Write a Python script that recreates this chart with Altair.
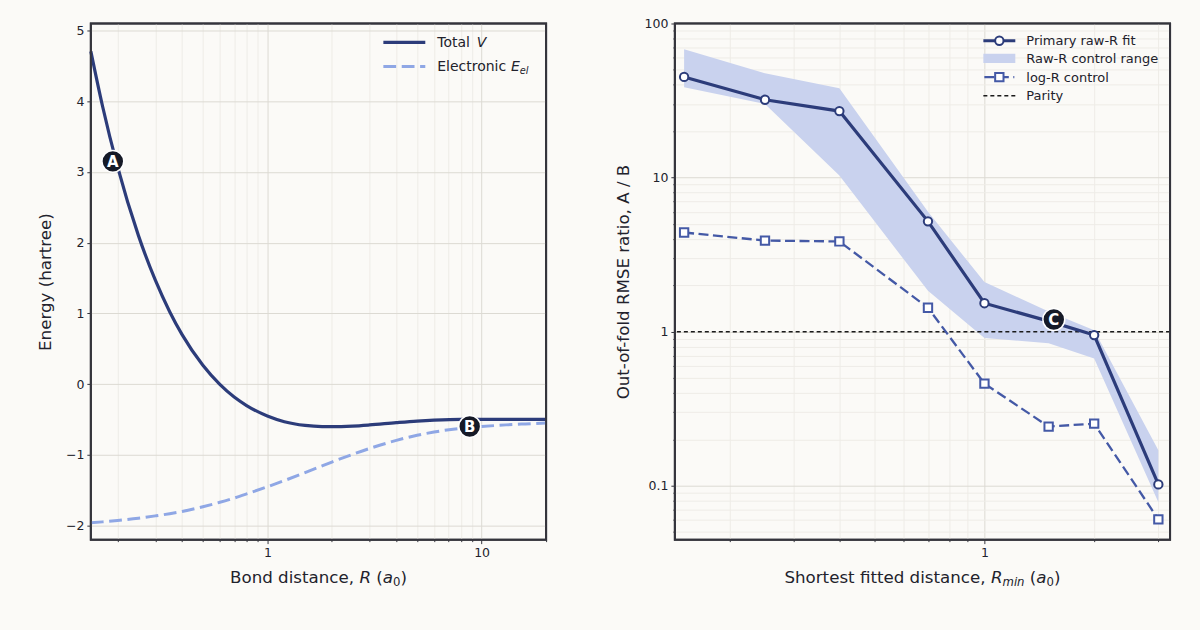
import altair as alt
import pandas as pd

# ---------------- data ----------------
R = [0.15, 0.17, 0.2, 0.25, 0.3, 0.35, 0.4, 0.5, 0.6, 0.7, 0.8, 1.0, 1.2, 1.5,
     1.8, 2.0, 2.5, 3.0, 4.0, 5.0, 6.0, 8.0, 10.0, 13.0, 16.0, 20.0]
E_el = [-1.962, -1.949, -1.929, -1.897, -1.864, -1.833, -1.801, -1.735, -1.672,
        -1.612, -1.554, -1.452, -1.365, -1.252, -1.158, -1.103, -0.994, -0.911,
        -0.796, -0.724, -0.678, -0.625, -0.600, -0.577, -0.563, -0.550]
V_total = [4.705, 3.933, 3.071, 2.103, 1.469, 1.024, 0.699, 0.265, -0.005,
           -0.184, -0.304, -0.452, -0.532, -0.585, -0.602, -0.603, -0.594,
           -0.578, -0.546, -0.524, -0.511, -0.500, -0.500, -0.500, -0.500, -0.500]

left_x_major = [1, 10]
left_x_minor = [0.2, 0.3, 0.4, 0.5, 0.6, 0.7, 0.8, 0.9, 2, 3, 4, 5, 6, 7, 8, 9, 20]
left_y_major = [-2, -1, 0, 1, 2, 3, 4, 5]

ann_left_label = ["A", "B"]
ann_left_R = [0.19, 8.8]
ann_left_E = [3.15, -0.60]

Rmin = [0.15, 0.25, 0.4, 0.7, 1.0, 1.5, 2.0, 3.0]
primary = [45.0, 32.0, 27.0, 5.2, 1.53, 1.17, 0.95, 0.102]
band_lo = [38.5, 30.0, 10.3, 1.84, 0.91, 0.84, 0.67, 0.078]
band_hi = [68.0, 47.5, 38.0, 6.0, 2.1, 1.35, 1.02, 0.17]
logR = [4.4, 3.9, 3.85, 1.43, 0.46, 0.242, 0.253, 0.0605]
parity = [1.0]

right_x_major = [1]
right_x_minor = [0.2, 0.3, 0.4, 0.5, 0.6, 0.7, 0.8, 0.9, 2, 3]
right_y_major = [0.1, 1, 10, 100]
right_y_minor = [0.05, 0.06, 0.07, 0.08, 0.09, 0.2, 0.3, 0.4, 0.5, 0.6, 0.7, 0.8, 0.9,
                 2, 3, 4, 5, 6, 7, 8, 9, 20, 30, 40, 50, 60, 70, 80, 90]

ann_right_label = ["C"]
ann_right_x = [1.55]
ann_right_y = [1.2]

# ---------------- style ----------------
FONT = "DejaVu Sans"
BG = "#fbfaf7"
NAVY = "#2c3c7a"
LIGHT = "#8fa7e5"
BAND = "#c9d2ee"
LOGR = "#4459a6"
INK = "#161a27"
TXT = "#22222c"
FRAME = "#34343c"
GMAJ = "#dcdad3"
GMIN = "#eeece7"

W_L, W_R, H = 456, 496, 517

WID = {' ': .318, 'a': .613, 'b': .635, 'c': .550, 'd': .635, 'e': .615, 'f': .352,
       'g': .635, 'h': .634, 'i': .278, 'l': .278, 'm': .974, 'n': .634, 'o': .612,
       'r': .411, 's': .521, 't': .392, 'u': .634, 'w': .818, 'y': .592, 'B': .686,
       'E': .632, 'R': .695, 'S': .635, 'T': .611, 'V': .684, ',': .318, '(': .390,
       ')': .390, '0': .636}

dummy = pd.DataFrame({"k": [0]})


def axis(values, grid_color, labels=True, tick=4, orient="bottom", **kw):
    return alt.Axis(values=values, format="~g", labels=labels, grid=True,
                    gridColor=grid_color, gridWidth=1, ticks=True, tickSize=tick,
                    tickColor=FRAME, tickWidth=1, domain=False, labelFont=FONT,
                    labelFontSize=12.5, labelColor=TXT, labelPadding=3,
                    orient=orient, **kw)


def txt(s, x, y, size, italic=False, dy=0, color=TXT):
    return alt.Chart(dummy).mark_text(
        text=s, align="left", baseline="alphabetic", font=FONT, fontSize=size,
        fontStyle="italic" if italic else "normal", color=color, dy=dy
    ).encode(x=alt.value(x), y=alt.value(y))


def width(s, fs):
    return sum(WID.get(c, .6) for c in s) * fs


def rich(parts, x, y, size, center=False):
    sizes = [size * 0.7 if st.endswith("sub") else size for _, st in parts]
    total = sum(width(s, fs) for (s, _), fs in zip(parts, sizes))
    cx = x - total / 2 if center else x
    out = []
    for (s, st), fs in zip(parts, sizes):
        lead = len(s) - len(s.lstrip(" "))
        trail = len(s) - len(s.rstrip(" "))
        core = s.strip(" ")
        cx += lead * WID[' '] * fs
        if core:
            out.append(txt(core, cx, y, fs, italic=st.startswith("i"),
                           dy=0.22 * size if st.endswith("sub") else 0))
        cx += width(core, fs) + trail * WID[' '] * fs
    return out


def hrule(x1, x2, y, color, sw, dash=None):
    kw = dict(color=color, strokeWidth=sw)
    if dash:
        kw["strokeDash"] = dash
    return alt.Chart(dummy).mark_rule(**kw).encode(
        x=alt.value(x1), x2=alt.value(x2), y=alt.value(y))


def frame(w):
    return alt.Chart(dummy).mark_rect(
        fillOpacity=0, stroke=FRAME, strokeWidth=2
    ).encode(x=alt.value(0), x2=alt.value(w), y=alt.value(0), y2=alt.value(H))


# ---------------- left panel ----------------
left_df = pd.DataFrame({"R": R, "V": V_total, "E": E_el})
ann_left = pd.DataFrame({"lab": ann_left_label, "x": ann_left_R, "y": ann_left_E})

xsL = alt.Scale(type="log", domain=[0.15, 20], nice=False)
ysL = alt.Scale(domain=[-2.2, 5.1], nice=False, zero=False)

bounds_L = alt.Chart(dummy).mark_rect(opacity=0).encode(
    x=alt.value(-90), x2=alt.value(W_L), y=alt.value(-22), y2=alt.value(H + 91))

line_E = alt.Chart(left_df).mark_line(
    color=LIGHT, strokeWidth=3, strokeDash=[12.8, 5.6], interpolate="monotone"
).encode(
    x=alt.X("R:Q", scale=xsL, title=None,
            axis=axis(left_x_minor, GMIN, labels=False, tick=2)),
    y=alt.Y("E:Q", scale=ysL, axis=None),
)

line_V = alt.Chart(left_df).mark_line(
    color=NAVY, strokeWidth=3.2, interpolate="monotone"
).encode(
    x=alt.X("R:Q", scale=xsL, title=None, axis=axis(left_x_major, GMAJ)),
    y=alt.Y("V:Q", scale=ysL, title="Energy (hartree)",
            axis=axis(left_y_major, GMAJ, orient="left", titleFont=FONT,
                      titleFontSize=16.7, titleFontWeight="normal",
                      titleColor=TXT, titleX=-45, titleY=H / 2, titleAngle=270,
                      titleAlign="center", titleBaseline="middle")),
)

annL_dot = alt.Chart(ann_left).mark_circle(
    size=480, color=INK, opacity=1, stroke="white", strokeWidth=1.5
).encode(x=alt.X("x:Q", scale=xsL, axis=None), y=alt.Y("y:Q", scale=ysL, axis=None))
annL_txt = alt.Chart(ann_left).mark_text(
    color="white", font=FONT, fontSize=15, fontWeight="bold",
    align="center", baseline="middle", dy=1
).encode(x=alt.X("x:Q", scale=xsL, axis=None),
         y=alt.Y("y:Q", scale=ysL, axis=None), text="lab:N")

legL = [
    hrule(293, 335, 19, NAVY, 3.2),
    hrule(293, 335, 43, LIGHT, 3, [12.8, 5.6]),
] + rich([("Total ", "n"), ("V", "i")], 347, 24, 14) \
  + rich([("Electronic ", "n"), ("E", "i"), ("el", "isub")], 347, 48, 14)

titleL = rich([("Bond distance, ", "n"), ("R", "i"), (" (", "n"), ("a", "i"),
               ("0", "sub"), (")", "n")], W_L / 2, 560, 16.7, center=True)

left = alt.layer(bounds_L, line_E, line_V, annL_dot, annL_txt, *legL, *titleL,
                 frame(W_L)).resolve_axis(
    x="independent", y="independent").properties(width=W_L, height=H)

# ---------------- right panel ----------------
right_df = pd.DataFrame({"Rmin": Rmin, "primary": primary, "lo": band_lo,
                         "hi": band_hi, "logR": logR})
ann_right = pd.DataFrame({"lab": ann_right_label, "x": ann_right_x, "y": ann_right_y})

xsR = alt.Scale(type="log", domain=[0.1415, 3.23], nice=False)
ysR = alt.Scale(type="log", domain=[0.0447, 100], nice=False)

bounds_R = alt.Chart(dummy).mark_rect(opacity=0).encode(
    x=alt.value(0), x2=alt.value(W_R + 29), y=alt.value(-22), y2=alt.value(H + 91))

band = alt.Chart(right_df).mark_area(color=BAND, opacity=1).encode(
    x=alt.X("Rmin:Q", scale=xsR, title=None,
            axis=axis(right_x_minor, GMIN, labels=False, tick=2)),
    y=alt.Y("lo:Q", scale=ysR, title=None,
            axis=axis(right_y_minor, GMIN, labels=False, tick=2, orient="left")),
    y2="hi:Q",
)

parity_rule = alt.Chart(pd.DataFrame({"p": parity})).mark_rule(
    color="#1a1a1a", strokeWidth=1.5, strokeDash=[4, 3]
).encode(y=alt.Y("p:Q", scale=ysR, axis=None))

logr_line = alt.Chart(right_df).mark_line(
    color=LOGR, strokeWidth=2.3, strokeDash=[10, 4.5]
).encode(x=alt.X("Rmin:Q", scale=xsR, axis=None),
         y=alt.Y("logR:Q", scale=ysR, axis=None))
logr_pts = alt.Chart(right_df).mark_square(
    size=70, color="white", stroke=LOGR, strokeWidth=2, opacity=1
).encode(x=alt.X("Rmin:Q", scale=xsR, axis=None),
         y=alt.Y("logR:Q", scale=ysR, axis=None))

prim_line = alt.Chart(right_df).mark_line(color=NAVY, strokeWidth=3.2).encode(
    x=alt.X("Rmin:Q", scale=xsR, title=None, axis=axis(right_x_major, GMAJ)),
    y=alt.Y("primary:Q", scale=ysR, title="Out-of-fold RMSE ratio, A / B",
            axis=axis(right_y_major, GMAJ, orient="left", titleFont=FONT,
                      titleFontSize=16.7, titleFontWeight="normal",
                      titleColor=TXT, titleX=-51, titleY=H / 2, titleAngle=270,
                      titleAlign="center", titleBaseline="middle")),
)
prim_pts = alt.Chart(right_df).mark_circle(
    size=70, color="white", stroke=NAVY, strokeWidth=2, opacity=1
).encode(x=alt.X("Rmin:Q", scale=xsR, axis=None),
         y=alt.Y("primary:Q", scale=ysR, axis=None))

annR_dot = alt.Chart(ann_right).mark_circle(
    size=480, color=INK, opacity=1, stroke="white", strokeWidth=1.5
).encode(x=alt.X("x:Q", scale=xsR, axis=None), y=alt.Y("y:Q", scale=ysR, axis=None))
annR_txt = alt.Chart(ann_right).mark_text(
    color="white", font=FONT, fontSize=15, fontWeight="bold",
    align="center", baseline="middle", dy=1
).encode(x=alt.X("x:Q", scale=xsR, axis=None),
         y=alt.Y("y:Q", scale=ysR, axis=None), text="lab:N")

legR = [
    hrule(309, 341, 17.3, NAVY, 3.2),
    alt.Chart(dummy).mark_circle(size=70, color="white", stroke=NAVY, strokeWidth=2,
                                 opacity=1).encode(x=alt.value(325), y=alt.value(17.3)),
    alt.Chart(dummy).mark_rect(color=BAND, opacity=1).encode(
        x=alt.value(309), x2=alt.value(341), y=alt.value(30.3), y2=alt.value(39.7)),
    hrule(310, 340, 53.7, LOGR, 2.3, [10, 4.5]),
    alt.Chart(dummy).mark_square(size=70, color="white", stroke=LOGR, strokeWidth=2,
                                 opacity=1).encode(x=alt.value(325), y=alt.value(53.7)),
    hrule(309, 341, 72.3, "#1a1a1a", 1.5, [4, 3]),
    txt("Primary raw-R fit", 352, 17.3 + 4.7, 13),
    txt("Raw-R control range", 352, 35 + 4.7, 13),
    txt("log-R control", 352, 53.7 + 4.7, 13),
    txt("Parity", 352, 72.3 + 4.7, 13),
]

titleR = rich([("Shortest fitted distance, ", "n"), ("R", "i"), ("min", "isub"),
               (" (", "n"), ("a", "i"), ("0", "sub"), (")", "n")],
              W_R / 2, 560, 16.7, center=True)

right = alt.layer(bounds_R, band, parity_rule, logr_line, logr_pts, prim_line, prim_pts,
                  annR_dot, annR_txt, *legR, *titleR, frame(W_R)).resolve_axis(
    x="independent", y="independent").properties(width=W_R, height=H)

chart = alt.hconcat(left, right, spacing=129, bounds="flush").properties(
    padding=0, background=BG
).configure(font=FONT).configure_view(stroke=FRAME, strokeWidth=2)

chart.save("out.html", embed_options={"renderer": "svg", "actions": False})
